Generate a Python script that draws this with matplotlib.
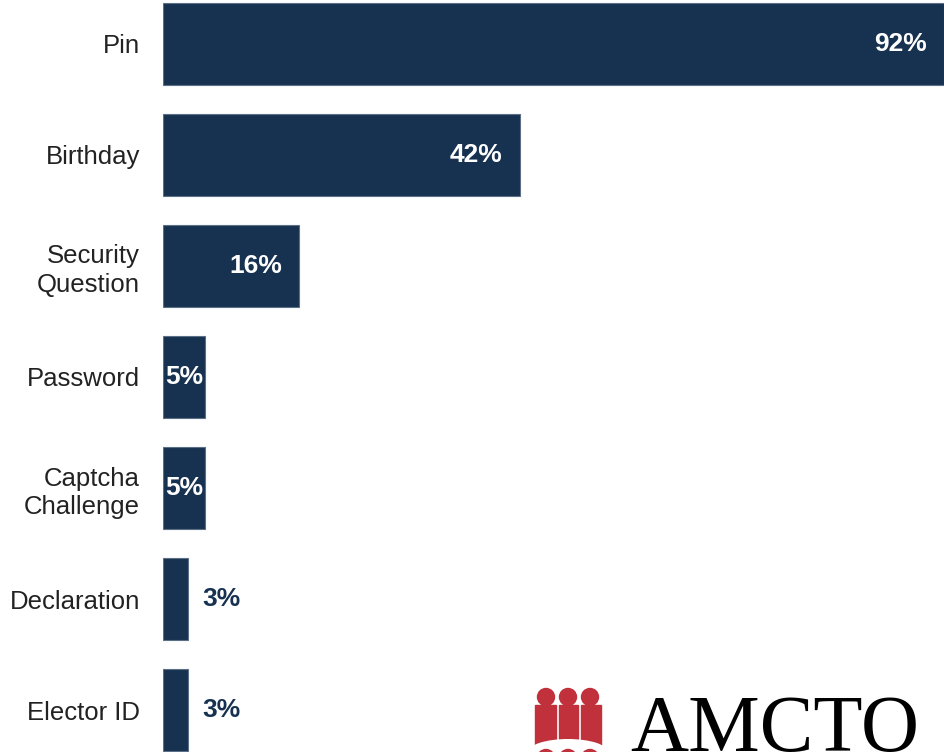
import matplotlib.pyplot as plt
from matplotlib.patches import Circle, Rectangle, Ellipse

# Authentication methods and share of respondents using them
methods = ['Pin', 'Birthday', 'Security\nQuestion', 'Password',
           'Captcha\nChallenge', 'Declaration', 'Elector ID']
shares = [92, 42, 16, 5, 5, 3, 3]

navy = '#173150'
red = '#c1313b'

plt.rcParams['font.family'] = ['Liberation Sans', 'DejaVu Sans']

fig = plt.figure(figsize=(9.44, 7.52), dpi=100)
ax = fig.add_axes([163 / 944, 0, 1 - 163 / 944, 1])

pos = list(range(len(methods)))
ax.barh(pos, shares, height=0.74, color=navy, edgecolor='#5b6f86', linewidth=0.8)
ax.set_xlim(0, 92)
ax.set_ylim(6.378, -0.396)

ax.set_yticks(pos)
ax.set_yticklabels(methods, fontsize=18.5, color='#222222', linespacing=1.25)
ax.tick_params(axis='y', length=0, pad=16.5)
ax.set_xticks([])
for s in ax.spines.values():
    s.set_visible(False)

# value labels: inside the bar in white, outside in navy for the thinnest bars
for y, v in zip(pos, shares):
    if v > 10:
        ax.annotate(f'{v}%', (v, y), xytext=(-17, 0), textcoords='offset pixels',
                    ha='right', va='center', color='white', fontsize=19,
                    fontweight='bold')
    elif v >= 5:
        ax.annotate(f'{v}%', (v, y), xytext=(-2, 0), textcoords='offset pixels',
                    ha='right', va='center', color='white', fontsize=19,
                    fontweight='bold')
    else:
        ax.annotate(f'{v}%', (v, y), xytext=(14, 0), textcoords='offset pixels',
                    ha='left', va='center', color=navy, fontsize=19,
                    fontweight='bold')

# AMCTO logo in the lower right corner (pixel coordinates)
lx = fig.add_axes([520 / 944, 0, 424 / 944, 82 / 752])
lx.set_xlim(520, 944)
lx.set_ylim(752, 670)
lx.axis('off')
lx.patch.set_alpha(0)
for cx in (546, 568, 590):
    lx.add_patch(Circle((cx, 697), 8.5, color=red))
for x0, x1 in ((535, 556), (559, 578), (581, 601)):
    lx.add_patch(Rectangle((x0, 705), x1 - x0, 47, color=red))
lx.add_patch(Ellipse((568, 752), 80, 26, facecolor='white', edgecolor='none'))
for cx in (546, 568, 590):
    lx.add_patch(Circle((cx, 758), 8.5, color=red))
lx.text(630, 751, 'AMCTO', family=['Liberation Serif', 'DejaVu Serif'],
        fontsize=58, color='black', ha='left', va='baseline')

fig.savefig('out.png', dpi=100)
